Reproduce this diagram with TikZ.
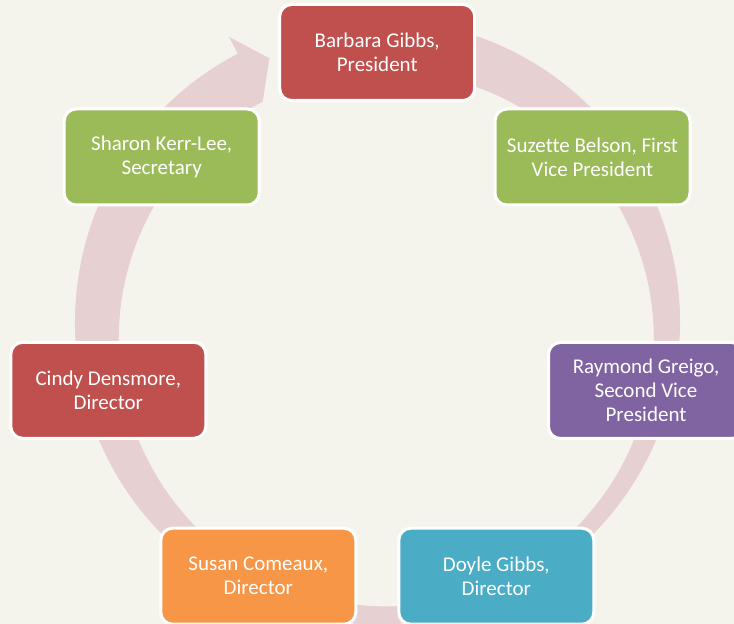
\documentclass[tikz,border=0pt]{standalone}
\usepackage{fontspec}
\setmainfont{Carlito}[Ligatures=NoCommon]
\definecolor{bgc}{RGB}{244,244,236}
\definecolor{ringc}{RGB}{231,208,210}
\definecolor{redc}{RGB}{192,80,77}
\definecolor{greenc}{RGB}{155,187,89}
\definecolor{purplec}{RGB}{128,100,162}
\definecolor{bluec}{RGB}{75,172,198}
\definecolor{orangec}{RGB}{247,150,70}
\begin{document}
\begin{tikzpicture}[x=1pt,y=1pt,
  member/.style={draw=white, line width=3pt, rounded corners=12pt,
    minimum width=195pt, minimum height=96pt, inner sep=0pt,
    text=white, align=center, font=\fontsize{21}{24}\selectfont}]
\useasboundingbox (0,0) rectangle (734,624);
\clip (0,0) rectangle (734,624);
\fill[bgc] (0,0) rectangle (734,624);
% circular arrow
\begin{scope}[shift={(377.5,302)}]
\fill[ringc] (85:302.5) arc[start angle=85, end angle=-242.5, radius=302.5]
  -- (117.5:321.5) -- (112.3:285) -- (117.5:248.5)
  arc[start angle=-242.5, end angle=85, radius=267.5] -- cycle;
\end{scope}
% members
\node[member, fill=redc] (barbara) at (377.2,571.5) {Barbara Gibbs,\\President};
\node[member, fill=greenc] (suzette) at (592.5,467) {Suzette Belson, First\\Vice President};
\node[member, fill=purplec] (raymond) at (646,233.5) {Raymond Greigo,\\Second Vice\\President};
\node[member, fill=bluec] (doyle) at (496.3,47.8) {Doyle Gibbs,\\Director};
\node[member, fill=orangec] (susan) at (258.3,47.8) {Susan Comeaux,\\Director};
\node[member, fill=redc] (cindy) at (108.3,233.7) {Cindy Densmore,\\Director};
\node[member, fill=greenc] (sharon) at (161.7,467) {Sharon Kerr-Lee,\\Secretary};
\end{tikzpicture}
\end{document}
